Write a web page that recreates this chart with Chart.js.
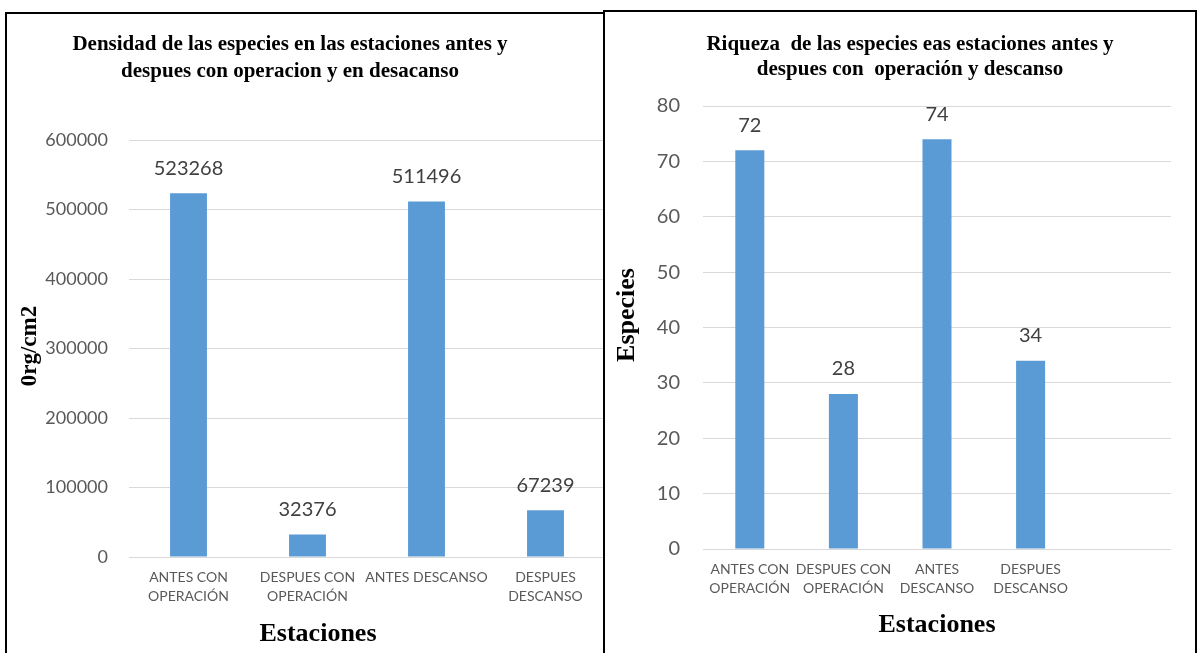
<!DOCTYPE html>
<html>
<head>
<meta charset="utf-8">
<script src="https://cdn.jsdelivr.net/npm/chart.js@4.4.1/dist/chart.umd.min.js"></script>
<style>
  html, body { margin: 0; padding: 0; background: #fff; overflow: hidden; }
  body { width: 1198px; height: 653px; position: relative; }
  canvas { position: absolute; top: 0; }
  .frame { position: absolute; border: 2px solid #000; box-sizing: border-box; pointer-events: none; z-index: 2; }
</style>
</head>
<body>
<canvas id="densidadChart" width="606" height="653" style="left:0"></canvas>
<canvas id="riquezaChart" width="594" height="653" style="left:604px"></canvas>
<div class="frame" style="left:5px; top:12px; width:600px; height:660px"></div>
<div class="frame" style="left:603px; top:10px; width:594px; height:660px"></div>

<script>
// Estaciones (eje X)
var estacionesDensidad = [['ANTES CON', 'OPERACIÓN'], ['DESPUES CON', 'OPERACIÓN'], 'ANTES DESCANSO', ['DESPUES', 'DESCANSO']];
var estacionesRiqueza = [['ANTES CON', 'OPERACIÓN'], ['DESPUES CON', 'OPERACIÓN'], ['ANTES', 'DESCANSO'], ['DESPUES', 'DESCANSO'], ''];

// Valores de cada estación
var densidad = [523268, 32376, 511496, 67239];
var riqueza = [72, 28, 74, 34, null];

// Escalas de los ejes Y
var densidadTicks = { min: 0, max: 600000, step: 100000 };
var riquezaTicks = { min: 0, max: 80, step: 10 };

var AZUL = '#5B9BD5';
var GRIS_TEXTO = '#595959';
var GRIS_GRID = '#D9D9D9';
var SANS = 'Lato, "Open Sans", sans-serif';
var SERIF = '"Liberation Serif", "Times New Roman", serif';

// valores encima de cada barra
var etiquetasBarras = {
    id: 'etiquetasBarras',
    afterDatasetsDraw: function (chart, args, opts) {
        var ctx = chart.ctx;
        ctx.save();
        ctx.font = opts.size + 'px ' + SANS;
        ctx.fillStyle = '#404040';
        ctx.textAlign = 'center';
        ctx.textBaseline = 'middle';
        chart.data.datasets.forEach(function (ds, i) {
            chart.getDatasetMeta(i).data.forEach(function (bar, j) {
                if (ds.data[j] == null) return;
                ctx.fillText(String(ds.data[j]), bar.x, bar.y - opts.offset);
            });
        });
        ctx.restore();
    }
};

// titulos del grafico y de los ejes
var rotulos = {
    id: 'rotulos',
    afterDraw: function (chart, args, opts) {
        var ctx = chart.ctx;
        (opts.items || []).forEach(function (r) {
            ctx.save();
            ctx.font = 'bold ' + r.size + 'px ' + SERIF;
            ctx.fillStyle = '#000';
            ctx.textAlign = 'center';
            ctx.textBaseline = 'middle';
            ctx.translate(r.x, r.y);
            if (r.vertical) ctx.rotate(-Math.PI / 2);
            ctx.fillText(r.text, 0, 0);
            ctx.restore();
        });
    }
};

function crearGrafico(id, etiquetas, valores, escala, cfg) {
    return new Chart(document.getElementById(id).getContext('2d'), {
        type: 'bar',
        data: {
            labels: etiquetas,
            datasets: [{
                data: valores,
                backgroundColor: AZUL,
                borderWidth: 0,
                categoryPercentage: 1,
                barPercentage: 0.31
            }]
        },
        options: {
            responsive: false,
            devicePixelRatio: 1,
            animation: false,
            layout: { padding: { left: 0, right: cfg.padRight, top: cfg.top, bottom: 0 } },
            plugins: {
                legend: { display: false },
                tooltip: { enabled: false },
                title: { display: false },
                etiquetasBarras: { size: 20, offset: 25 },
                rotulos: { items: cfg.rotulos }
            },
            scales: {
                x: {
                    grid: { display: false, drawTicks: false },
                    border: { display: false },
                    ticks: {
                        color: GRIS_TEXTO,
                        font: { family: SANS, size: 14, lineHeight: 1.36 },
                        padding: 11,
                        maxRotation: 0,
                        autoSkip: false
                    },
                    afterFit: function (s) { s.height = cfg.xHeight; }
                },
                y: {
                    min: escala.min,
                    max: escala.max,
                    grid: { color: GRIS_GRID, lineWidth: 1, drawTicks: false },
                    border: { display: false },
                    ticks: {
                        stepSize: escala.step,
                        color: GRIS_TEXTO,
                        font: { family: SANS, size: cfg.tickSize },
                        padding: cfg.tickPad,
                        callback: function (v) { return String(v); }
                    },
                    afterFit: function (s) { s.width = cfg.yWidth; }
                }
            }
        },
        plugins: [etiquetasBarras, rotulos]
    });
}

crearGrafico('densidadChart', estacionesDensidad, densidad, densidadTicks, {
    top: 140, padRight: 1, xHeight: 96, yWidth: 129, tickSize: 18, tickPad: 21,
    rotulos: [
        { text: 'Densidad de las especies en las estaciones antes y', x: 290, y: 45, size: 21 },
        { text: 'despues con operacion y en desacanso', x: 290, y: 72, size: 21 },
        { text: '0rg/cm2', x: 30, y: 346, size: 23, vertical: true },
        { text: 'Estaciones', x: 318, y: 634, size: 26 }
    ]
});

crearGrafico('riquezaChart', estacionesRiqueza, riqueza, riquezaTicks, {
    top: 106, padRight: 27, xHeight: 104, yWidth: 99, tickSize: 20, tickPad: 23,
    rotulos: [
        { text: 'Riqueza  de las especies eas estaciones antes y', x: 306, y: 45, size: 21 },
        { text: 'despues con  operación y descanso', x: 306, y: 70, size: 21 },
        { text: 'Especies', x: 23, y: 315, size: 26, vertical: true },
        { text: 'Estaciones', x: 333, y: 625, size: 26 }
    ]
});
</script>
</body>
</html>
